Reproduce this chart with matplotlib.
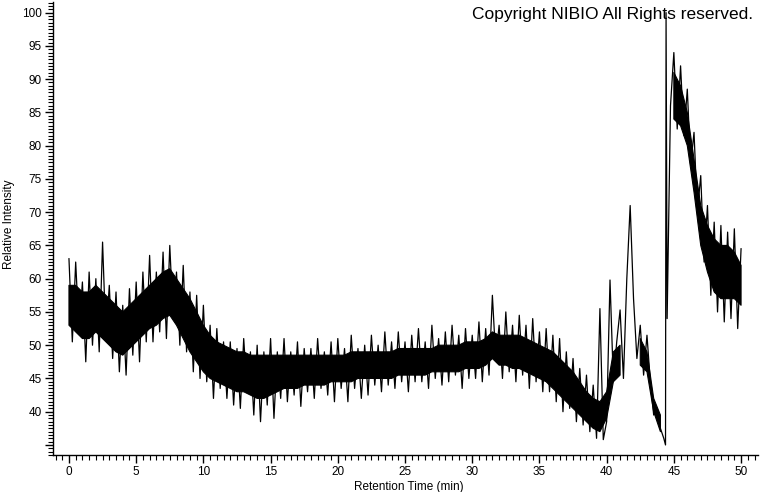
import numpy as np
import matplotlib
matplotlib.use("Agg")
import matplotlib.pyplot as plt
from matplotlib.ticker import MultipleLocator, FixedLocator, FuncFormatter

plt.rcParams['font.family'] = ['Liberation Sans', 'DejaVu Sans']

# trace every 0.25 min (mostly alternating upper / lower excursions)
trace_step = 0.25
trace = [
    63.0, 50.5, 62.5, 52.0, 59.5, 47.5, 61.0, 50.0,   # 0 - 1.75
    60.0, 49.0, 65.5, 51.0, 59.0, 48.0, 58.0, 46.0,   # 2
    56.0, 45.5, 58.5, 48.5, 59.5, 47.5, 61.0, 50.5,   # 4
    63.5, 50.5, 61.0, 52.0, 64.0, 51.0, 65.0, 54.0,   # 6
    61.0, 50.0, 62.0, 49.0, 58.0, 46.0, 57.5, 45.0,   # 8
    56.0, 44.5, 53.0, 42.0, 52.5, 43.5, 50.5, 42.0,   # 10
    50.5, 41.0, 49.5, 40.5, 51.0, 43.0, 49.0, 39.5,   # 12
    50.0, 38.5, 49.0, 41.0, 51.0, 39.0, 49.0, 42.0,   # 14
    51.0, 41.5, 49.0, 42.5, 50.5, 40.8, 49.5, 43.0,   # 16
    49.5, 42.0, 51.0, 43.5, 49.0, 42.5, 50.5, 41.5,   # 18
    51.0, 43.5, 49.5, 41.5, 51.5, 43.5, 49.5, 42.0,   # 20
    50.0, 42.5, 51.5, 44.0, 50.0, 43.0, 52.0, 44.0,   # 22
    50.5, 43.5, 52.0, 44.5, 50.5, 43.0, 51.5, 44.5,   # 24
    52.5, 44.5, 50.5, 43.5, 53.0, 45.0, 51.0, 44.0,   # 26
    52.0, 44.5, 53.0, 45.5, 51.5, 43.5, 52.5, 45.0,   # 28
    51.5, 45.0, 53.5, 44.5, 52.5, 45.5, 57.5, 48.0,   # 30
    53.0, 45.0, 55.0, 46.0, 53.0, 44.5, 54.5, 45.5,   # 32
    53.0, 43.5, 54.0, 44.5, 52.0, 43.0, 52.5, 43.0,   # 34
    51.5, 41.5, 51.0, 40.0, 49.0, 40.5, 48.0, 38.5,   # 36
    46.5, 38.0, 45.5, 37.0, 44.0, 36.0, 55.5, 35.8,   # 38
    38.5, 59.8, 44.5, 50.5, 55.3, 45.0, 60.0, 71.0,   # 40
    57.0, 48.0, 53.0, 45.5, 51.5, 44.5, 39.5, 40.5,   # 42
    37.5, 36.0, 54.0, 86.0, 94.0, 82.5, 92.0, 81.5,   # 44
    88.5, 77.0, 82.0, 70.0, 75.5, 62.5, 71.0, 57.5,   # 46
    68.5, 55.0, 68.0, 53.5, 67.0, 54.0, 67.5, 52.5,   # 48
    64.5,                                             # 50
]

# the sharp peak at ~44.4 min
spike_time = [44.38, 44.42]
spike_value = [35.0, 100.0]

# dense (solid) part of the noise band, read every 0.5 min
core_step = 0.5
core_hi = [59, 59, 58, 58, 59, 58, 57, 56, 55, 56,           # 0 - 4.5
           57, 58, 59, 60, 61, 61.5, 60, 58.5, 57, 55,       # 5
           53, 51.5, 50.5, 50, 49.5, 49, 49, 48.5, 48.5, 48.5,  # 10
           48.5, 48.5, 48.5, 48.5, 48.5, 48.5, 48.5, 48.5, 48.5, 48.5,  # 15
           48.5, 48.5, 49, 49, 49, 49, 49, 49, 49, 49.5,     # 20
           49.5, 49.5, 49.5, 49.5, 49.5, 50, 50, 50, 50, 50.5,  # 25
           50.5, 50.5, 51, 52, 51.5, 51.5, 51.5, 51.5, 51, 50.5,  # 30
           50, 49.5, 49, 48, 47, 46, 44.5, 43, 42, 41.5,     # 35
           43, 49, 50, np.nan, np.nan, 51, 49, 42, 39.5, np.nan,  # 40
           91, 89, 85, 78, 71, 68, 66, 65, 65, 64,           # 45
           62]
core_lo = [53, 52, 51, 51, 52, 51, 50, 49, 48.5, 49.5,
           50.5, 51.5, 52.5, 53, 54, 54.5, 53, 51, 49, 47.5,
           46, 45, 44.5, 44, 43.5, 43, 43, 42.5, 42, 42,
           42.5, 43, 43.5, 43.5, 43.5, 44, 44, 44, 44, 44.5,
           44.5, 44.5, 44.5, 45, 45, 45, 45, 45, 45, 45.5,
           45.5, 45.5, 45.5, 45.5, 46, 46, 46, 46, 46, 46.5,
           46.5, 46.5, 47, 48, 47, 47, 46.5, 46.5, 46, 45.5,
           45, 44.5, 43.5, 42.5, 41.5, 40.5, 39.5, 38.5, 37.5, 37,
           39, 44.5, 45.5, np.nan, np.nan, 47, 46, 40, 37, np.nan,
           84, 83, 80, 73, 65, 61, 58, 57, 57, 57,
           56]

ytick_labels = [40, 45, 50, 55, 60, 65, 70, 75, 80, 85, 90, 95, 100]
xtick_labels = [0, 5, 10, 15, 20, 25, 30, 35, 40, 45, 50]

t = np.arange(len(trace)) * trace_step
all_t = np.concatenate([t, spike_time])
all_v = np.concatenate([trace, spike_value])
order = np.argsort(all_t)
all_t, all_v = all_t[order], all_v[order]
core_t = np.arange(len(core_hi)) * core_step

fig = plt.figure(figsize=(7.6, 4.92), dpi=100)
ax = fig.add_axes([52.7 / 760, 37 / 492, (758 - 52.7) / 760, (490 - 37) / 492])

ax.fill_between(core_t, core_lo, core_hi, color='black', linewidth=0.8, edgecolor='black')
ax.plot(all_t, all_v, color='black', linewidth=0.9)

ax.set_xlim(-1.21, 51.26)
ax.set_ylim(33.49, 101.6)

for s in ['top', 'right']:
    ax.spines[s].set_visible(False)
for s in ['left', 'bottom']:
    ax.spines[s].set_linewidth(1.0)

ax.xaxis.set_major_locator(FixedLocator(xtick_labels))
ax.xaxis.set_minor_locator(MultipleLocator(0.5))
ax.yaxis.set_major_locator(FixedLocator([35] + ytick_labels))
ax.yaxis.set_minor_locator(MultipleLocator(0.5))
ax.yaxis.set_major_formatter(FuncFormatter(lambda v, p: '' if v < 37 else f'{v:.0f}'))
ax.tick_params(which='major', direction='out', length=6, width=1, labelsize=8.5, pad=2)
ax.tick_params(which='minor', direction='out', length=3.5, width=0.8)

fig.text(409 / 760, 1 - 487 / 492, 'Retention Time (min)', ha='center', va='center', fontsize=8.5)
fig.text(9 / 760, 1 - 224 / 492, 'Relative Intensity', ha='center', va='center',
         rotation=90, fontsize=8.5)
fig.text(753 / 760, 1 - 14 / 492, 'Copyright NIBIO All Rights reserved.',
         ha='right', va='center', fontsize=12.5)

fig.savefig('out.png', dpi=100)
